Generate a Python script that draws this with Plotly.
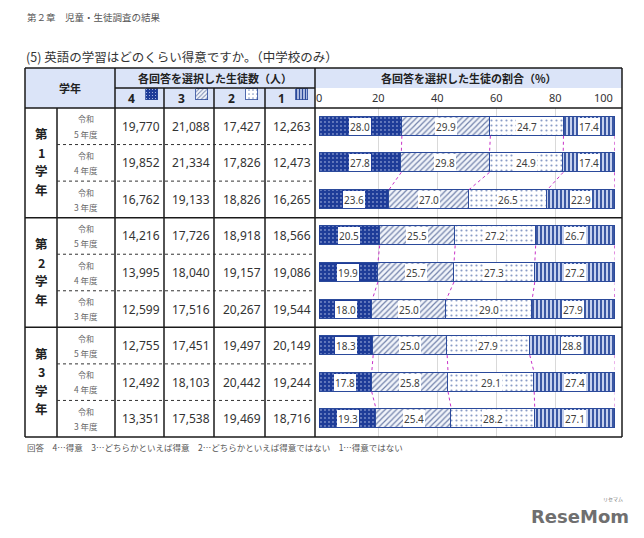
import plotly.graph_objects as go

W, H = 644, 538
OFF = 8  # default page body margin in the written HTML
FW, FH = W - OFF, H - OFF

# ---------------- data ----------------
answers = ["4", "3", "2", "1"]
grade_chars = [["第", "1", "学", "年"], ["第", "2", "学", "年"], ["第", "3", "学", "年"]]
era_label = "令和"
year_labels = ["5 年度", "4 年度", "3 年度"]

count_4 = [19770, 19852, 16762, 14216, 13995, 12599, 12755, 12492, 13351]
count_3 = [21088, 21334, 19133, 17726, 18040, 17516, 17451, 18103, 17538]
count_2 = [17427, 17826, 18826, 18918, 19157, 20267, 19497, 20442, 19469]
count_1 = [12263, 12473, 16265, 18566, 19086, 19544, 20149, 19244, 18716]

pct_4 = [28.0, 27.8, 23.6, 20.5, 19.9, 18.0, 18.3, 17.8, 19.3]
pct_3 = [29.9, 29.8, 27.0, 25.5, 25.7, 25.0, 25.0, 25.8, 25.4]
pct_2 = [24.7, 24.9, 26.5, 27.2, 27.3, 29.0, 27.9, 29.1, 28.2]
pct_1 = [17.4, 17.4, 22.9, 26.7, 27.2, 27.9, 28.8, 27.4, 27.1]

tick_vals = [0, 20, 40, 60, 80, 100]

header_text = "第２章　児童・生徒調査の結果"
title_text = "(5) 英語の学習はどのくらい得意ですか。（中学校のみ）"
count_header = "各回答を選択した生徒数（人）"
pct_header = "各回答を選択した生徒の割合（%）"
grade_header = "学年"
footnote = "回答　4…得意　3…どちらかといえば得意　2…どちらかといえば得意ではない　1…得意ではない"

counts = [count_4, count_3, count_2, count_1]
pcts = [pct_4, pct_3, pct_2, pct_1]
n_rows = len(pct_4)
rows = list(range(n_rows))

# ---------------- styles ----------------
FONT = "Noto Sans, Noto Sans CJK JP"
JP = "Noto Sans CJK JP"
HEAD_BG = "#dbe4f8"
EDGE = "#2b4a9b"
styles = [
    dict(shape=".", bgcolor="#1e3c98", fgcolor="#c9d4f2", size=4, solidity=0.1),
    dict(shape="/", bgcolor="#f1f4fa", fgcolor="#7282ab", size=4, solidity=0.3),
    dict(shape=".", bgcolor="white", fgcolor="#8a9cc6", size=5, solidity=0.15),
    dict(shape="|", bgcolor="#c6d1ee", fgcolor="#2b4a9b", size=4, solidity=0.45),
]


def px_x(p):
    return (p - OFF) / FW


def px_y(p):
    return 1 - (p - OFF) / FH


ROW_PX = (437 - 108) / n_rows


def note(x, y, text, size, color="#222", family=JP, xanchor="center", yanchor="middle",
         xref="paper", yref="paper", **kw):
    d = dict(x=x, y=y, xref=xref, yref=yref, text=text, showarrow=False,
             xanchor=xanchor, yanchor=yanchor, font=dict(family=family, size=size, color=color))
    d.update(kw)
    return d


fig = go.Figure()

# stacked bars
for k in range(4):
    st = styles[k]
    fig.add_trace(go.Bar(
        x=pcts[k], y=rows, orientation="h", width=0.52,
        marker=dict(color=st["bgcolor"], line=dict(color=EDGE, width=1),
                    pattern=dict(shape=st["shape"], bgcolor=st["bgcolor"],
                                 fgcolor=st["fgcolor"], size=st["size"],
                                 solidity=st["solidity"], fillmode="replace")),
        showlegend=False, hoverinfo="skip", xaxis="x", yaxis="y",
    ))

# legend swatches in header
for k in range(4):
    st = styles[k]
    fig.add_trace(go.Bar(
        x=[k + 0.74], y=[1], width=0.24,
        marker=dict(color=st["bgcolor"], line=dict(color=EDGE, width=0.8),
                    pattern=dict(shape=st["shape"], bgcolor=st["bgcolor"],
                                 fgcolor=st["fgcolor"], size=max(st["size"] - 1, 3),
                                 solidity=st["solidity"], fillmode="replace")),
        showlegend=False, hoverinfo="skip", xaxis="x2", yaxis="y2",
    ))

annotations = []
shapes = []

# cumulative positions and value labels
cum = []
for i in rows:
    c = [0.0]
    for k in range(4):
        c.append(c[-1] + pcts[k][i])
    cum.append(c)
    for k in range(4):
        mid = c[k] + pcts[k][i] / 2
        annotations.append(note(mid, i, f"{pcts[k][i]:.1f}", 10, "#404040", FONT,
                                xref="x", yref="y", bgcolor="white", width=22, height=17,
                                borderpad=0, borderwidth=0))

# series lines within each grade group
for g in range(3):
    for r in range(3 * g, 3 * g + 2):
        for k in range(1, 5):
            shapes.append(dict(
                type="line", xref="x", yref="y",
                x0=cum[r][k], y0=r + 0.26, x1=cum[r + 1][k], y1=r + 1 - 0.26,
                line=dict(color="#c832c8", width=1, dash="dot"), layer="above",
            ))

# axis tick labels (placed on the value axis)
for t in tick_vals:
    annotations.append(note(t, px_y(98), str(t), 11, "#333", FONT, xref="x",
                            xanchor="right" if t == tick_vals[-1] else "center"))

# ---------------- table ----------------
LEFT, RIGHT, TOP, MID, HEAD_BOT, BOTTOM = 25, 622, 68, 88, 108, 437
COL_G, COL_Y = 57, 115
count_cols = [115, 164, 214, 265, 315]

shapes.append(dict(type="rect", xref="paper", yref="paper", x0=px_x(LEFT), x1=px_x(315),
                   y0=px_y(HEAD_BOT), y1=px_y(TOP), fillcolor=HEAD_BG, line=dict(width=0), layer="below"))
shapes.append(dict(type="rect", xref="paper", yref="paper", x0=px_x(315), x1=px_x(RIGHT),
                   y0=px_y(MID), y1=px_y(TOP), fillcolor=HEAD_BG, line=dict(width=0), layer="below"))

BL = dict(color="#1a1a1a", width=1.5)


def hline(x0, x1, ypx, line=BL):
    shapes.append(dict(type="line", xref="paper", yref="paper", x0=px_x(x0), x1=px_x(x1),
                       y0=px_y(ypx), y1=px_y(ypx), line=line))


def vline(xpx, y0, y1, line=BL):
    shapes.append(dict(type="line", xref="paper", yref="paper", x0=px_x(xpx), x1=px_x(xpx),
                       y0=px_y(y0), y1=px_y(y1), line=line))


hline(LEFT, RIGHT, TOP)
hline(LEFT, RIGHT, BOTTOM)
hline(LEFT, RIGHT, HEAD_BOT)
hline(COL_Y, 315, MID)
vline(LEFT, TOP, BOTTOM)
vline(RIGHT, TOP, BOTTOM)
vline(COL_Y, TOP, BOTTOM)
vline(315, TOP, BOTTOM)
vline(COL_G, HEAD_BOT, BOTTOM)
for xc in count_cols[1:4]:
    vline(xc, MID, BOTTOM)

# row separators tied to the row axis
for g in range(1, 3):
    b = 3 * g - 0.5
    shapes.append(dict(type="line", xref="paper", yref="y", x0=px_x(LEFT), x1=px_x(RIGHT),
                       y0=b, y1=b, line=BL))
for g in range(3):
    for r in range(3 * g, 3 * g + 2):
        b = r + 0.5
        shapes.append(dict(type="line", xref="paper", yref="y", x0=px_x(COL_G), x1=px_x(315),
                           y0=b, y1=b, line=dict(color="#333333", width=1, dash="dot")))

# header texts
annotations.append(note(px_x((LEFT + COL_Y) / 2), px_y((TOP + HEAD_BOT) / 2), f"<b>{grade_header}</b>", 11))
annotations.append(note(px_x((COL_Y + 315) / 2), px_y((TOP + MID) / 2), f"<b>{count_header}</b>", 11))
annotations.append(note(px_x((315 + RIGHT) / 2), px_y((TOP + MID) / 2), f"<b>{pct_header}</b>", 11))
for k, a in enumerate(answers):
    annotations.append(note(k + 0.33, 0.18, f"<b>{a}</b>", 12, "#222", FONT, xref="x2", yref="y2"))

# row texts
for i in rows:
    for k in range(4):
        annotations.append(note(px_x(count_cols[k + 1] - 2), i, f"{counts[k][i]:,}", 12, "#333", FONT,
                                xanchor="right", yref="y"))
    annotations.append(note(px_x((COL_G + COL_Y) / 2), i - 0.2, era_label, 8, "#666", yref="y"))
    annotations.append(note(px_x((COL_G + COL_Y) / 2), i + 0.2, year_labels[i % 3], 8.5, "#666", yref="y"))
step = 18.5 / ROW_PX
for g in range(3):
    for j, ch in enumerate(grade_chars[g]):
        annotations.append(note(px_x((LEFT + COL_G) / 2), 3 * g + 1 + (j - 1.5) * step - 0.03,
                                f"<b>{ch}</b>", 12.5, "#222", yref="y"))

# page texts
annotations.append(note(px_x(25), px_y(17), header_text, 9.5, "#555", xanchor="left"))
annotations.append(note(px_x(24), px_y(57), title_text, 12.5, "#333", xanchor="left"))
annotations.append(note(px_x(25), px_y(447), footnote, 8.5, "#555", xanchor="left"))
annotations.append(note(px_x(580), px_y(516), "<b>ReseMom</b>", 18, "#6f6f6f", "DejaVu Sans"))
annotations.append(note(px_x(613), px_y(499), "リセマム", 5, "#777"))

fig.update_layout(
    width=FW, height=FH, autosize=False,
    margin=dict(l=0, r=0, t=0, b=0),
    paper_bgcolor="white", plot_bgcolor="white",
    barmode="stack", bargap=0,
    xaxis=dict(domain=[px_x(319), px_x(615)], range=[0, 100], side="top",
               tickvals=tick_vals, ticks="", showticklabels=False,
               showgrid=True, gridcolor="#d9d9d9", gridwidth=1,
               zeroline=False, showline=False, fixedrange=True),
    yaxis=dict(domain=[px_y(BOTTOM), px_y(HEAD_BOT)], range=[n_rows - 0.5, -0.5],
               showticklabels=False, showgrid=False, zeroline=False, fixedrange=True),
    xaxis2=dict(domain=[px_x(115), px_x(315)], range=[0, 4], anchor="y2", visible=False, fixedrange=True),
    yaxis2=dict(domain=[px_y(HEAD_BOT), px_y(MID)], range=[-0.75, 1.12], anchor="x2", visible=False,
                fixedrange=True),
    shapes=shapes, annotations=annotations,
)

fig.write_html("out.html")
